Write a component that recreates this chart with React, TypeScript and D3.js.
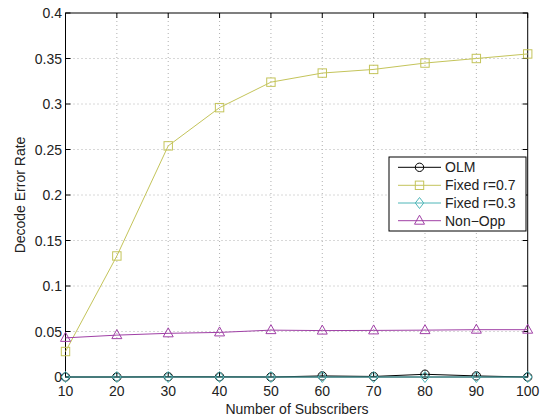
import React from "react";
import * as d3 from "d3";

const xs = [10, 20, 30, 40, 50, 60, 70, 80, 90, 100];
const olm = [0, 0, 0.0003, 0.0002, 0, 0.0012, 0.0006, 0.003, 0.0012, 0];
const fixed07 = [0.028, 0.133, 0.254, 0.296, 0.324, 0.334, 0.338, 0.345, 0.35, 0.355];
const fixed03 = [0, 0, 0, 0, 0, 0, 0, 0, 0, 0];
const nonOpp = [0.043, 0.046, 0.048, 0.049, 0.0515, 0.051, 0.0512, 0.0515, 0.052, 0.052];
const xTicks = [10, 20, 30, 40, 50, 60, 70, 80, 90, 100];
const yTicks = [0, 0.05, 0.1, 0.15, 0.2, 0.25, 0.3, 0.35, 0.4];
const seriesNames = ["OLM", "Fixed r=0.7", "Fixed r=0.3", "Non\u2212Opp"];

const W = 548, H = 420;
const L = 65.5, R = 527.7, T = 13, B = 377;
const FONT = "Liberation Sans, Arial, Helvetica, sans-serif";
const FS = 14;

const colors = ["#000000", "#c4c45a", "#4fb6b8", "#a040a6"];
const markers = ["circle", "square", "diamond", "triangle"];

function Marker({ type, x, y, color }: { type: string; x: number; y: number; color: string }) {
  const s = 4.2;
  if (type === "circle") return <circle cx={x} cy={y} r={4.2} fill="none" stroke={color} strokeWidth={1} />;
  if (type === "square") return <rect x={x - s} y={y - s} width={2 * s} height={2 * s} fill="none" stroke={color} strokeWidth={1} />;
  if (type === "diamond")
    return <path d={`M${x},${y - 5.5}L${x + 4.2},${y}L${x},${y + 5.5}L${x - 4.2},${y}Z`} fill="none" stroke={color} strokeWidth={1} />;
  return <path d={`M${x},${y - 5.5}L${x + 5},${y + 3.5}L${x - 5},${y + 3.5}Z`} fill="none" stroke={color} strokeWidth={1} />;
}

export default function App() {
  const x = d3.scaleLinear().domain([10, 100]).range([L, R]);
  const y = d3.scaleLinear().domain([0, 0.4]).range([B, T]);
  const data = [olm, fixed07, fixed03, nonOpp];
  const line = d3.line<number>().x((_, i) => x(xs[i])).y((d) => y(d));
  const legX = 389, legY = 157, legW = 137, legH = 74;
  const rowY = [167.3, 185.3, 203, 220.7];
  return (
    <svg width={W} height={H} style={{ position: "absolute", left: 0, top: 0, background: "#fff" }}>
      <rect x={0} y={0} width={W} height={H} fill="#fff" />
      {xTicks.slice(1, -1).map((t) => (
        <line key={"gx" + t} x1={x(t)} x2={x(t)} y1={T} y2={B} stroke="#b0b0b0" strokeWidth={1} strokeDasharray="1,3" />
      ))}
      {yTicks.slice(1, -1).map((t) => (
        <line key={"gy" + t} x1={L} x2={R} y1={y(t)} y2={y(t)} stroke="#b0b0b0" strokeWidth={1} strokeDasharray="1,3" />
      ))}
      {xTicks.map((t) => (
        <g key={"tx" + t}>
          <line x1={x(t)} x2={x(t)} y1={B} y2={B - 5} stroke="#000" />
          <line x1={x(t)} x2={x(t)} y1={T} y2={T + 5} stroke="#000" />
          <text x={x(t)} y={395.5} fontSize={FS} fontFamily={FONT} textAnchor="middle" fill="#222">{t}</text>
        </g>
      ))}
      {yTicks.map((t) => (
        <g key={"ty" + t}>
          <line x1={L} x2={L + 5} y1={y(t)} y2={y(t)} stroke="#000" />
          <line x1={R} x2={R - 5} y1={y(t)} y2={y(t)} stroke="#000" />
          <text x={L - 3.5} y={y(t) + 5} fontSize={FS} fontFamily={FONT} textAnchor="end" fill="#222">{String(t)}</text>
        </g>
      ))}
      <rect x={L} y={T} width={R - L} height={B - T} fill="none" stroke="#000" strokeWidth={1} />
      {data.map((d, si) => (
        <g key={"s" + si}>
          <path d={line(d) || ""} fill="none" stroke={colors[si]} strokeWidth={1} />
          {d.map((v, i) => (
            <Marker key={i} type={markers[si]} x={x(xs[i])} y={y(v)} color={colors[si]} />
          ))}
        </g>
      ))}
      <text x={297} y={413.5} fontSize={FS} fontFamily={FONT} textAnchor="middle" fill="#222">Number of Subscribers</text>
      <text transform={`translate(25,${(T + B) / 2}) rotate(-90)`} fontSize={FS} fontFamily={FONT} textAnchor="middle" fill="#222">Decode Error Rate</text>
      <rect x={legX} y={legY} width={legW} height={legH} fill="#fff" stroke="#000" strokeWidth={1} />
      {seriesNames.map((n, i) => (
        <g key={"l" + i}>
          <line x1={398} x2={441} y1={rowY[i]} y2={rowY[i]} stroke={colors[i]} />
          <Marker type={markers[i]} x={419.5} y={rowY[i]} color={colors[i]} />
          <text x={445} y={rowY[i] + 5} fontSize={FS} fontFamily={FONT} fill="#222">{n}</text>
        </g>
      ))}
    </svg>
  );
}
